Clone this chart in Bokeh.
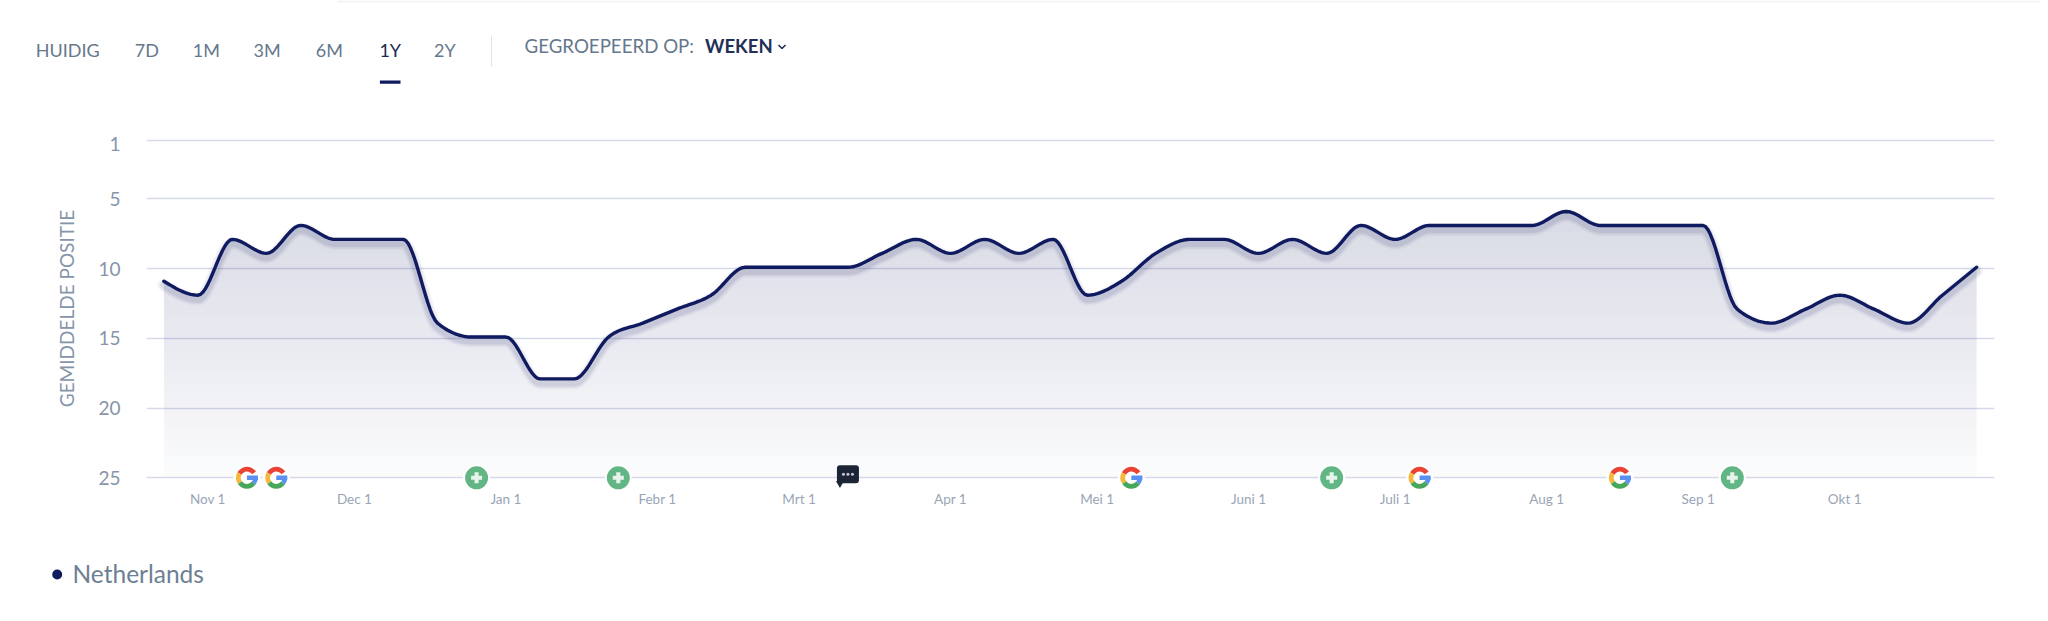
from datetime import datetime, timezone
import numpy as np
from bokeh.plotting import figure
from bokeh.layouts import column
from bokeh.models import Range1d, FixedTicker
from bokeh.core.properties import value
from bokeh.embed import file_html
from bokeh.resources import INLINE

# ---- data -------------------------------------------------------------
first_week = "2019-10-23"
positions = [11, 12, 8, 9, 7, 8, 8, 8, 14, 15, 15, 18, 18, 15, 14, 13, 12, 10, 10, 10, 10, 9, 8, 9, 8, 9, 8,
             12, 11, 9, 8, 8, 9, 8, 9, 7, 8, 7, 7, 7, 7, 6, 7, 7, 7, 7, 13, 14, 13, 12, 13, 14, 12, 10]
month_dates = ["2019-11-01", "2019-12-01", "2020-01-01", "2020-02-01", "2020-03-01", "2020-04-01",
               "2020-05-01", "2020-06-01", "2020-07-01", "2020-08-01", "2020-09-01", "2020-10-01"]
month_labels = ["Nov 1", "Dec 1", "Jan 1", "Febr 1", "Mrt 1", "Apr 1", "Mei 1", "Juni 1", "Juli 1", "Aug 1",
                "Sep 1", "Okt 1"]
y_tick_labels = ["1", "5", "10", "15", "20", "25"]
google_dates = ["2019-11-09", "2019-11-15", "2020-05-08", "2020-07-06", "2020-08-16"]
note_dates = ["2019-12-26", "2020-01-24", "2020-06-18", "2020-09-08"]
comment_dates = ["2020-03-11"]
tabs = ["HUIDIG", "7D", "1M", "3M", "6M", "1Y", "2Y"]
group_label = "GEGROEPEERD OP:"
group_value = "WEKEN"
series_name = "Netherlands"
y_title = "GEMIDDELDE POSITIE"

# ---- layout constants --------------------------------------------------
WIDTH = 2040
DAY = 86400000.0
PX_PER_DAY = 4.886
PX_PER_UNIT = 13.95
NAVY = "#0f1a5f"
MUTED = "#8695a9"


def ms(s):
    return datetime.strptime(s, "%Y-%m-%d").replace(tzinfo=timezone.utc).timestamp() * 1000


def px_x(n):
    return n / PX_PER_DAY * DAY


def px_y(n):
    return n / PX_PER_UNIT


def monotone(x, y, n=14):
    """Monotone cubic drawing of the weekly series (how the source chart draws its line)."""
    x, y = np.asarray(x, float), np.asarray(y, float)
    h = np.diff(x)
    s = np.diff(y) / h
    t = np.zeros_like(y)
    for i in range(1, len(y) - 1):
        p_ = (s[i - 1] + s[i]) / 2
        t[i] = (np.sign(s[i - 1]) + np.sign(s[i])) * min(abs(s[i - 1]), abs(s[i]), 0.5 * abs(p_))
    t[0] = (3 * s[0] - t[1]) / 2
    t[-1] = (3 * s[-1] - t[-2]) / 2
    xs, ys = [], []
    for i in range(len(h)):
        u = np.linspace(0, 1, n, endpoint=False)
        a = (2 * u**3 - 3 * u**2 + 1) * y[i] + (u**3 - 2 * u**2 + u) * h[i] * t[i]
        b = (-2 * u**3 + 3 * u**2) * y[i + 1] + (u**3 - u**2) * h[i] * t[i + 1]
        xs.append(x[i] + u * h[i])
        ys.append(a + b)
    return np.r_[np.concatenate(xs), x[-1]], np.r_[np.concatenate(ys), y[-1]]


def blank(height, top, bottom):
    f = figure(width=WIDTH, height=height, output_backend="svg", toolbar_location=None,
               x_range=Range1d(0, WIDTH), y_range=Range1d(bottom, top), min_border=0,
               outline_line_color=None, x_axis_type=None, y_axis_type=None, frame_align=False)
    f.grid.visible = False
    return f


# ---- header ------------------------------------------------------------
head = blank(126, 0, 126)


def header(text, left, y, color, size="18px", style="normal"):
    head.text([left], [y], text=[text], text_font=value("Lato"), text_font_size=size,
              text_font_style=style, text_color=color, text_baseline="middle", text_align="left")


tab_lefts = [35.2, 134.3, 192.3, 253, 315.2, 378.9, 433.5]
head.quad(left=[337], right=[WIDTH], top=[0], bottom=[2], color="#f3f3f8", line_color=None)
for t, left in zip(tabs, tab_lefts):
    header(t, left, 49.5, "#1d2a55" if t == "1Y" else "#65788c")
header(group_label, 524, 45, "#65788c", size="18.7px")
header(group_value, 704.5, 45, "#232f55", size="18.5px", style="bold")
head.multi_line([[778, 781.5, 785]], [[44.5, 48, 44.5]], line_color="#232f55", line_width=1.6)
head.quad(left=[379.4], right=[400], top=[80], bottom=[83.3], color=NAVY, line_color=None)
head.quad(left=[490.5], right=[491.5], top=[36], bottom=[66], color="#dfe2e8", line_color=None)

# ---- chart -------------------------------------------------------------
week_x = [ms(first_week) + i * 7 * DAY for i in range(len(positions))]
cx, cy = monotone(week_x, positions)

x0 = week_x[0] - px_x(163.4 - 146)
x1 = week_x[0] + px_x(1994 - 163.4)
y_top = 5 - (198.3 - 126) / PX_PER_UNIT
y_bot = 5 + (490 - 198.3) / PX_PER_UNIT

p = figure(width=WIDTH, height=394, output_backend="svg", toolbar_location=None,
           x_range=Range1d(x0, x1), y_range=Range1d(y_bot, y_top), frame_align=False,
           min_border_left=146, min_border_right=WIDTH - 1994, min_border_top=0, min_border_bottom=30,
           outline_line_color=None, background_fill_color="white")
p.extra_y_ranges["series"] = Range1d(y_bot + 0.09, y_top + 0.09)

tick_y = [1.1, 5, 10, 15, 20, 25]
yax = p.yaxis[0]
yax.ticker = FixedTicker(ticks=tick_y)
yax.major_label_overrides = dict(zip(tick_y, y_tick_labels))
yax.axis_line_color = None
yax.major_tick_line_color = None
yax.minor_tick_line_color = None
yax.major_tick_out = 0
yax.major_label_standoff = 26
yax.major_label_text_font = "Lato"
yax.major_label_text_font_size = "19px"
yax.major_label_text_color = MUTED
yax.axis_label = y_title
yax.axis_label_text_font = "Lato"
yax.axis_label_text_font_style = "normal"
yax.axis_label_text_font_size = "19px"
yax.axis_label_text_color = MUTED
yax.axis_label_standoff = 17

xax = p.xaxis[0]
month_ms = [ms(d) for d in month_dates]
xax.ticker = FixedTicker(ticks=month_ms)
xax.major_label_overrides = dict(zip(month_ms, month_labels))
xax.axis_line_color = None
xax.major_tick_line_color = None
xax.minor_tick_line_color = None
xax.major_tick_out = 0
xax.major_label_standoff = 0
xax.major_label_text_font = "Lato"
xax.major_label_text_font_size = "13.5px"
xax.major_label_text_color = "#99a5b6"

p.xgrid.visible = False
p.ygrid[0].ticker = FixedTicker(ticks=[0.85, 5, 10, 15, 20, 25])
p.ygrid[0].grid_line_color = "#d6d9e9"
p.ygrid[0].grid_line_width = 1.7

# vertical gradient under the curve: thin bands, each with its own opacity
edges = np.linspace(5.5, 25, 40)
for lo, hi in zip(edges[:-1], edges[1:]):
    mid = (lo + hi) / 2
    p.varea(cx, np.clip(cy, lo, hi), hi * np.ones_like(cy), y_range_name="series", fill_color=NAVY,
            fill_alpha=0.015 + 0.0078 * (25 - mid))

# soft shadow under the line, then the line
for w, a in [(13, 0.035), (10, 0.05), (7, 0.07)]:
    p.line(cx, cy + px_y(4), y_range_name="series", line_color=NAVY, line_width=w, line_alpha=a, line_cap="round")
p.line(cx, cy, y_range_name="series", line_color=NAVY, line_width=3.4, line_cap="round", line_join="round")

# events on the axis
Y_EVT = 25
gx = [ms(d) for d in google_dates]
gy = [Y_EVT] * len(gx)
p.scatter(gx, gy, size=27, color="white", line_color=None)
for color, a0, a1 in [("#ea4335", 35, 150), ("#f5b83d", 150, 215), ("#47a85b", 215, 322), ("#5b8ff0", 322, 362)]:
    p.annular_wedge(gx, gy, inner_radius=6.2, outer_radius=11, inner_radius_units="screen",
                    outer_radius_units="screen", start_angle=np.deg2rad(a0), end_angle=np.deg2rad(a1),
                    color=color, line_color=None)
p.rect([g + px_x(5.5) for g in gx], gy, width=11, height=4.4, width_units="screen", height_units="screen",
       color="#5b8ff0", line_color=None)

nx = [ms(d) for d in note_dates]
ny = [Y_EVT] * len(nx)
p.scatter(nx, ny, size=27, color="white", line_color=None)
p.scatter(nx, ny, size=23, color="#62b585", line_color=None)
p.scatter(nx, ny, marker="plus", size=11, color="#e6f4ec", line_color=None)

kx = [ms(d) for d in comment_dates]
ky = [Y_EVT - px_y(3.5)] * len(kx)
p.rect(kx, ky, width=22, height=18, width_units="screen", height_units="screen", color="#1c2536",
       line_color=None, border_radius=3)
p.scatter([k - px_x(8) for k in kx], [y + px_y(9) for y in ky], marker="inverted_triangle", size=8,
          color="#1c2536", line_color=None)
for off in (-4.5, 0, 4.5):
    p.scatter([k + px_x(off) for k in kx], ky, size=3, color="#c3c8d4", line_color=None)

# ---- legend ------------------------------------------------------------
foot = blank(93, 520, 613)
dot = foot.scatter([56.7], [574], size=10, color=NAVY, line_color=None)
foot.text([72], [573], text=[series_name], text_font=value("Lato"), text_font_size="24.5px",
          text_color="#6d8093", text_baseline="middle", text_align="left")

layout = column(head, p, foot, spacing=0)
open("out.html", "w").write(file_html(layout, INLINE))
